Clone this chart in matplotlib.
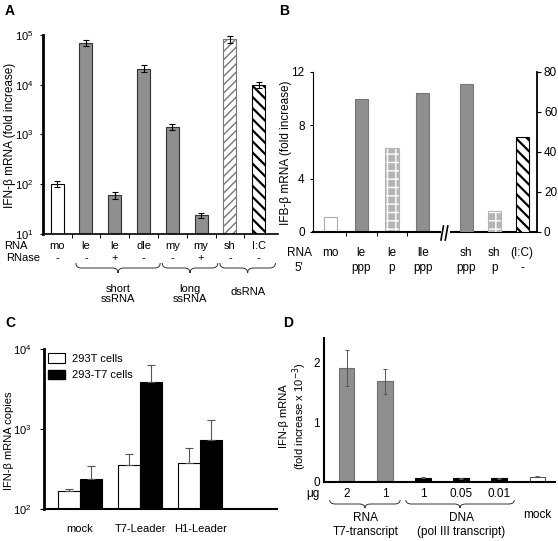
import matplotlib
matplotlib.use('Agg')
from matplotlib import pyplot as plt
from matplotlib import transforms
from matplotlib.path import Path
from matplotlib.patches import PathPatch, Patch
from matplotlib.ticker import NullLocator
import numpy as np

W, H = 558, 541
GRAY = '#8f8f8f'

plt.rcParams['font.family'] = ['Liberation Sans', 'DejaVu Sans']
plt.rcParams['font.size'] = 8
plt.rcParams['hatch.linewidth'] = 1.3

# ---- data ----
# A: IFN-beta induction, log scale
a_rna = ['mo', 'le', 'le', 'dle', 'my', 'my', 'sh', 'I:C']
a_rnase = ['-', '-', '+', '-', '-', '+', '-', '-']
a_vals = [102, 7.0e4, 60, 2.1e4, 1425, 23.7, 8.2e4, 9.8e3]
a_low = [88, 6.0e4, 50, 1.8e4, 1220, 20.6, 7.0e4, 8.7e3]
a_high = [117, 8.1e4, 70, 2.5e4, 1640, 26.4, 9.5e4, 1.14e4]
a_groups = ['short\nssRNA', 'long\nssRNA', 'dsRNA']
a_group_span = [(1, 3), (4, 5), (6, 7)]

# B: 5' end, two y scales
b_rna = ['mo', 'le', 'le', 'lle', 'sh', 'sh', '(I:C)']
b_end = ['', 'ppp', 'p', 'ppp', 'ppp', 'p', '-']
b_left = [1.1, 10.0, 6.3, 10.4]     # left axis 0-12
b_right = [74, 10.3, 47.5]          # right axis 0-80

# C: IFN-beta copies
c_cats = ['mock', 'T7-Leader', 'H1-Leader']
c_293t = [166, 352, 373]
c_293t_top = [178, 484, 586]
c_t7 = [240, 3890, 731]
c_t7_top = [340, 6300, 1280]

# D: RNA vs DNA
d_ug = ['2', '1', '1', '0.05', '0.01']
d_vals = [1.92, 1.69, 0.07, 0.06, 0.06, 0.09]
d_err = [0.30, 0.21, 0.01, 0.01, 0.01, 0.01]
d_groups = ['RNA\nT7-transcript', 'DNA\n(pol III transcript)']
d_group_span = [(0, 1), (2, 4)]

fig = plt.figure(figsize=(W / 100, H / 100), dpi=100)


def px_axes(l, t, r, b):
    return fig.add_axes([l / W, 1 - b / H, (r - l) / W, (b - t) / H])


def fy(y):
    return 1 - y / H


def under(ax, x, y, s, **kw):
    # x in data units, y in figure pixels from top
    tr = transforms.blended_transform_factory(ax.transData, fig.transFigure)
    ax.text(x, fy(y), s, transform=tr, ha='center', va='center', **kw)


def brace(ax, x0, x1, y, h, r):
    tr = transforms.blended_transform_factory(ax.transData, fig.transFigure)
    xm = (x0 + x1) / 2
    ya, yb, yc = fy(y), fy(y + h / 2), fy(y + h)
    verts = [(x0, ya), (x0, yb), (x0 + r, yb), (xm - r, yb), (xm, yb), (xm, yc),
             (xm, yb), (xm + r, yb), (x1 - r, yb), (x1, yb), (x1, ya)]
    codes = [Path.MOVETO, Path.CURVE3, Path.CURVE3, Path.LINETO, Path.CURVE3,
             Path.CURVE3, Path.CURVE3, Path.CURVE3, Path.LINETO, Path.CURVE3,
             Path.CURVE3]
    fig.add_artist(PathPatch(Path(verts, codes), transform=tr, fill=False,
                             lw=0.7, edgecolor='#333333'))


def letter(x, y, s):
    fig.text(x / W, fy(y), s, weight='bold', size=10, ha='center', va='center')


def hatch_lw(patch, lw):
    if hasattr(patch, 'set_hatch_linewidth'):
        patch.set_hatch_linewidth(lw)


def dotted(ax, bar):
    # gray bar with white grid -> dotted look, outlined in light gray
    bar.set_facecolor('#b4b4b4')
    bar.set_edgecolor('white')
    bar.set_hatch('++')
    hatch_lw(bar, 1.0)
    x, y = bar.get_xy()
    ax.bar(x + bar.get_width() / 2, bar.get_height(), width=bar.get_width(),
           fill=False, edgecolor='#b4b4b4', linewidth=0.8)


# ---------------- A ----------------
axA = px_axes(43, 35, 278, 234)
xa = np.arange(len(a_vals))
va = np.array(a_vals)
a_yerr = [va - np.array(a_low), np.array(a_high) - va]
faces = ['white'] + [GRAY] * 5 + ['white', 'white']
edges = ['black'] + ['#333333'] * 5 + ['#777777', 'black']
bars = axA.bar(xa, a_vals, width=0.45, color=faces, edgecolor=edges, linewidth=0.8,
               yerr=a_yerr, capsize=2, error_kw=dict(lw=0.8, capthick=0.8))
bars[6].set_hatch('////')
hatch_lw(bars[6], 1.0)
bars[7].set_hatch('\\\\\\')
hatch_lw(bars[7], 1.6)
axA.set_yscale('log')
axA.set_ylim(10, 1e5)
axA.set_xlim(-0.49, 7.67)
axA.set_yticks([10, 1e2, 1e3, 1e4, 1e5])
axA.yaxis.set_minor_locator(NullLocator())
axA.set_xticks([])
axA.set_xticks(np.arange(0.5, 7, 1), minor=True)
axA.tick_params(axis='x', which='minor', length=3, width=0.7)
axA.tick_params(axis='y', length=2, pad=5, labelsize=8)
for s in ['top', 'right']:
    axA.spines[s].set_visible(False)
axA.spines['left'].set_linewidth(2)
axA.spines['bottom'].set_linewidth(1.2)
fig.text(16 / W, fy(246), 'RNA', ha='center', va='center')
fig.text(23 / W, fy(258), 'RNase', ha='center', va='center')
for i in range(len(a_rna)):
    under(axA, xa[i], 246, a_rna[i])
    under(axA, xa[i], 258, a_rnase[i])
for name, (i0, i1) in zip(a_groups, a_group_span):
    x0, x1 = i0 - 0.35, i1 + 0.58
    brace(axA, x0, x1, 263, 10, 0.2)
    under(axA, (x0 + x1) / 2, 294 if '\n' in name else 292, name, linespacing=1.1)
fig.text(10 / W, fy(135), 'IFN-β mRNA (fold increase)', rotation=90,
         ha='center', va='center', size=8.5)
letter(10, 11, 'A')

# ---------------- B ----------------
axB = px_axes(313, 72, 537, 232)
axB2 = axB.twinx()
xb_left = [0, 1, 2, 3]
xb_right = [4.4, 5.3, 6.2]
bl = axB.bar(xb_left, b_left, width=0.42,
             color=['white', GRAY, 'white', GRAY],
             edgecolor=['#aaaaaa', '#777777', '#b5b5b5', '#777777'], linewidth=0.8)
dotted(axB, bl[2])
br = axB2.bar(xb_right, b_right, width=0.42,
              color=[GRAY, 'white', 'white'],
              edgecolor=['#777777', '#b5b5b5', 'black'], linewidth=0.8)
dotted(axB2, br[1])
br[2].set_hatch('\\\\\\')
hatch_lw(br[2], 1.6)
axB.set_xlim(-0.55, 6.68)
axB.set_ylim(0, 12)
axB2.set_ylim(0, 80)
axB.set_yticks([0, 4, 8, 12])
axB2.set_yticks([0, 20, 40, 60, 80])
axB.set_xticks([])
axB.set_xticks([0.5, 1.5, 2.5], minor=True)
axB.tick_params(axis='x', which='minor', length=3, width=0.7)
axB.tick_params(axis='y', length=2, pad=4, labelsize=8.5)
axB2.tick_params(axis='y', length=3, pad=2, labelsize=8.5)
for a in (axB, axB2):
    a.spines['top'].set_visible(False)
    a.spines['bottom'].set_visible(False)
axB.spines['right'].set_visible(False)
axB2.spines['left'].set_visible(False)
axB.spines['left'].set_linewidth(0.8)
axB2.spines['right'].set_linewidth(1.3)
axB.plot([-0.55, 3.55], [0, 0], color='black', lw=1.5, clip_on=False)
axB.plot([3.9, 6.68], [0, 0], color='black', lw=1.5, clip_on=False)
for dx in (3.62, 3.76):
    axB.plot([dx - 0.04, dx + 0.04], [-0.6, 0.45], color='black', lw=1.2, clip_on=False)
fig.text(300 / W, fy(253), 'RNA', ha='center', va='center', size=8.5)
fig.text(299 / W, fy(268), "5'", ha='center', va='center', size=8.5)
for x, r, e in zip(xb_left + xb_right, b_rna, b_end):
    under(axB, x, 253, r, size=8.5)
    under(axB, x, 268, e, size=8.5)
fig.text(286 / W, fy(153), 'IFB-β mRNA (fold increase)', rotation=90,
         ha='center', va='center', size=8.5)
letter(284, 11, 'B')

# ---------------- C ----------------
axC = px_axes(44, 349, 277, 509)
xc = np.arange(len(c_cats))
w = 0.37
v1, v2 = np.array(c_293t), np.array(c_t7)
axC.bar(xc - w / 2, c_293t, width=w, color='white', edgecolor='black', linewidth=0.8,
        yerr=[np.zeros(3), np.array(c_293t_top) - v1], capsize=3,
        error_kw=dict(lw=0.8, capthick=0.8, ecolor='#555555'))
axC.bar(xc + w / 2, c_t7, width=w, color='black', edgecolor='black', linewidth=0.8,
        yerr=[np.zeros(3), np.array(c_t7_top) - v2], capsize=3,
        error_kw=dict(lw=0.8, capthick=0.8, ecolor='#555555'))
axC.set_yscale('log')
axC.set_ylim(100, 1e4)
axC.set_xlim(-0.6, 3.28)
axC.set_yticks([100, 1e3, 1e4])
axC.yaxis.set_minor_locator(NullLocator())
axC.set_xticks(xc, c_cats)
axC.tick_params(axis='x', length=0, pad=11, labelsize=8)
axC.tick_params(axis='y', length=3, pad=6, labelsize=8)
for s in ['top', 'right']:
    axC.spines[s].set_visible(False)
axC.spines['left'].set_linewidth(2)
axC.spines['bottom'].set_linewidth(1.5)
handles = [Patch(facecolor='white', edgecolor='black', lw=0.8),
           Patch(facecolor='black', edgecolor='black')]
axC.legend(handles, ['293T cells', '293-T7 cells'], loc='upper left',
           bbox_to_anchor=(0.0, 1.0), borderaxespad=0, frameon=False,
           handlelength=1.5, handleheight=0.9, handletextpad=0.6,
           labelspacing=0.55, fontsize=8)
fig.text(9 / W, fy(441), 'IFN-β mRNA copies', rotation=90,
         ha='center', va='center', size=8)
letter(10, 323, 'C')

# ---------------- D ----------------
axD = px_axes(324, 338, 555, 482)
xd = np.arange(len(d_vals))
axD.bar(xd, d_vals, width=0.4,
        color=[GRAY, GRAY, 'black', 'black', 'black', 'white'],
        edgecolor=['#6f6f6f', '#6f6f6f', 'black', 'black', 'black', '#555555'],
        linewidth=0.8, yerr=d_err, capsize=1.5,
        error_kw=dict(lw=0.7, capthick=0.7, ecolor='#555555'))
axD.set_ylim(0, 2.42)
axD.set_xlim(-0.6, 5.47)
axD.set_yticks([0, 1, 2])
axD.set_xticks([])
axD.tick_params(axis='y', length=0, pad=3, labelsize=8.5)
for s in ['top', 'right']:
    axD.spines[s].set_visible(False)
axD.spines['left'].set_linewidth(1.5)
axD.spines['bottom'].set_linewidth(1.5)
fig.text(313 / W, fy(494), 'μg', ha='center', va='center', size=8.5)
for x, s in zip(xd, d_ug):
    under(axD, x, 494, s, size=8.5)
for name, (i0, i1) in zip(d_groups, d_group_span):
    x0, x1 = i0 - 0.45, i1 + 0.4
    brace(axD, x0, x1, 500, 8, 0.15)
    under(axD, (i0 + i1) / 2, 525, name, size=8.5, linespacing=1.15)
under(axD, xd[5], 515, 'mock', size=8.5)
fig.text(294 / W, fy(416), 'IFN-β mRNA\n(fold increase x 10$^{-3}$)', rotation=90,
         ha='center', va='center', size=8, linespacing=1.05)
letter(288, 323, 'D')

fig.savefig('out.png', dpi=100)
